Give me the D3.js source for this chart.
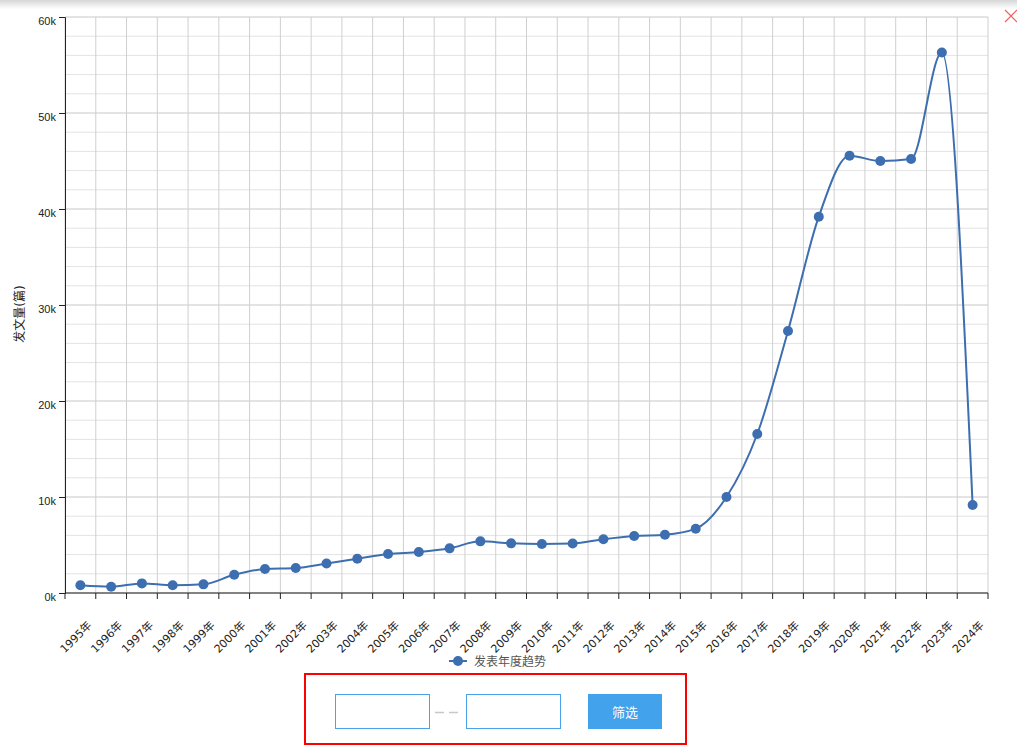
<!DOCTYPE html>
<html>
<head>
<meta charset="utf-8">
<script src="https://cdnjs.cloudflare.com/ajax/libs/d3/7.8.5/d3.min.js"></script>
<style>
body { margin: 0; background: #fff; font-family: "DejaVu Sans", "Noto Sans CJK SC", sans-serif; }
.axis text { font-size: 11px; fill: #222; }
.axis path, .axis line { stroke: #222; }
</style>
</head>
<body>
<div id="chart"></div>
<script>
// data
var years = ["1995年","1996年","1997年","1998年","1999年","2000年","2001年","2002年","2003年","2004年",
  "2005年","2006年","2007年","2008年","2009年","2010年","2011年","2012年","2013年","2014年",
  "2015年","2016年","2017年","2018年","2019年","2020年","2021年","2022年","2023年","2024年"];
var counts = [800, 650, 1000, 800, 900, 1900, 2500, 2600, 3080, 3570,
  4060, 4270, 4650, 5380, 5170, 5100, 5150, 5600, 5940, 6070,
  6700, 10000, 16560, 27300, 39200, 45550, 45000, 45200, 56300, 9170];
var yTicks = [0, 10000, 20000, 30000, 40000, 50000, 60000];
var seriesName = "发表年度趋势";
var yTitle = "发文量(篇)";

var margin = {top: 17, right: 29, bottom: 152, left: 65},
  width = 1017 - margin.left - margin.right,
  height = 745 - margin.top - margin.bottom;
var lineColor = "#3d6eb0";

var x = d3.scaleBand().domain(years).range([0, width]);
var y = d3.scaleLinear().domain([0, 60000]).range([height, 0]);

var root = d3.select("#chart").append("svg")
  .attr("width", 1017)
  .attr("height", 745);

// shadow strip along the top
var defs = root.append("defs");
var grad = defs.append("linearGradient").attr("id", "topShade")
  .attr("x1", 0).attr("y1", 0).attr("x2", 0).attr("y2", 1);
grad.append("stop").attr("offset", "0%").attr("stop-color", "#d6d6d6");
grad.append("stop").attr("offset", "100%").attr("stop-color", "#fff");
root.append("rect").attr("x", 0).attr("y", 0).attr("width", 1017).attr("height", 9)
  .attr("fill", "url(#topShade)");

// close cross top right
root.append("path").attr("d", "M1005,10L1017,22M1017,10L1005,22")
  .attr("stroke", "#f06060").attr("stroke-width", 1.2).attr("fill", "none");

var svg = root.append("g")
  .attr("transform", "translate(" + margin.left + "," + margin.top + ")");

// minor horizontal grid (every 2k)
svg.append("g")
  .selectAll("line")
  .data(d3.range(0, 60001, 2000).filter(function(v) { return v % 10000 != 0; }))
  .enter().append("line")
  .attr("x1", 0).attr("x2", width)
  .attr("y1", function(d) { return y(d); })
  .attr("y2", function(d) { return y(d); })
  .attr("stroke", "#e3e3e3");

// major horizontal grid
svg.append("g")
  .selectAll("line")
  .data(yTicks)
  .enter().append("line")
  .attr("x1", 0).attr("x2", width)
  .attr("y1", function(d) { return y(d); })
  .attr("y2", function(d) { return y(d); })
  .attr("stroke", "#c8c8c8");

// vertical grid on band edges
var edges = years.map(function(d) { return x(d); }).concat([width]);
svg.append("g")
  .selectAll("line")
  .data(edges)
  .enter().append("line")
  .attr("x1", function(d) { return d; })
  .attr("x2", function(d) { return d; })
  .attr("y1", 0).attr("y2", height)
  .attr("stroke", "#cfcfcf");

// y axis
var yAxis = svg.append("g").attr("class", "axis")
  .call(d3.axisLeft(y).tickValues(yTicks).tickSize(6).tickFormat(function(d) { return (d / 1000) + "k"; }));
yAxis.selectAll("text").attr("dy", "0.72em");

// x axis: ticks on band edges, labels at band centres
var xAxis = svg.append("g").attr("class", "axis")
  .attr("transform", "translate(0," + height + ")");
xAxis.append("line").attr("x1", 0).attr("x2", width).attr("stroke", "#222");
xAxis.selectAll(".tk")
  .data(edges)
  .enter().append("line")
  .attr("class", "tk")
  .attr("x1", function(d) { return d; })
  .attr("x2", function(d) { return d; })
  .attr("y1", 0).attr("y2", 6)
  .attr("stroke", "#222");
xAxis.selectAll("text")
  .data(years)
  .enter().append("text")
  .attr("text-anchor", "end")
  .attr("transform", function(d) {
    return "translate(" + (x(d) + x.bandwidth() / 2 + 12) + ",33) rotate(-45)";
  })
  .text(function(d) { return d; });

// y axis title
svg.append("text")
  .attr("transform", "translate(-41," + (height / 2 + 9) + ") rotate(-90)")
  .attr("text-anchor", "middle")
  .style("font-size", "12px")
  .style("fill", "#222")
  .text(yTitle);

// the line
var line = d3.line()
  .x(function(d, i) { return x(years[i]) + x.bandwidth() / 2; })
  .y(function(d) { return y(d); })
  .curve(d3.curveMonotoneX);

svg.append("path")
  .datum(counts)
  .attr("fill", "none")
  .attr("stroke", lineColor)
  .attr("stroke-width", 2)
  .attr("d", line);

svg.selectAll(".dot")
  .data(counts)
  .enter().append("circle")
  .attr("class", "dot")
  .attr("cx", function(d, i) { return x(years[i]) + x.bandwidth() / 2; })
  .attr("cy", function(d) { return y(d); })
  .attr("r", 5)
  .attr("fill", lineColor);

// legend
var legend = root.append("g").attr("transform", "translate(449,661)");
legend.append("line").attr("x1", 0).attr("x2", 18).attr("stroke", lineColor).attr("stroke-width", 2);
legend.append("circle").attr("cx", 9).attr("r", 5).attr("fill", lineColor);
legend.append("text").attr("x", 25).attr("y", 5)
  .style("font-size", "12px").style("fill", "#555")
  .text(seriesName);

// filter box below
var box = root.append("g");
box.append("rect").attr("x", 305).attr("y", 674).attr("width", 381).attr("height", 70)
  .attr("fill", "#fff").attr("stroke", "#f00").attr("stroke-width", 2);
box.append("rect").attr("x", 335.5).attr("y", 694.5).attr("width", 94).attr("height", 34)
  .attr("fill", "#fff").attr("stroke", "#4aa3ea");
box.append("rect").attr("x", 466.5).attr("y", 694.5).attr("width", 94).attr("height", 34)
  .attr("fill", "#fff").attr("stroke", "#4aa3ea");
box.append("path").attr("d", "M435,712.5h9M449,712.5h9")
  .attr("stroke", "#c8c8c8").attr("stroke-width", 1.5);
box.append("rect").attr("x", 588).attr("y", 694).attr("width", 74).attr("height", 35)
  .attr("fill", "#42a3ec");
box.append("text").attr("x", 625).attr("y", 716.5).attr("text-anchor", "middle")
  .style("font-size", "13px").style("fill", "#fff")
  .text("筛选");
</script>
</body>
</html>
